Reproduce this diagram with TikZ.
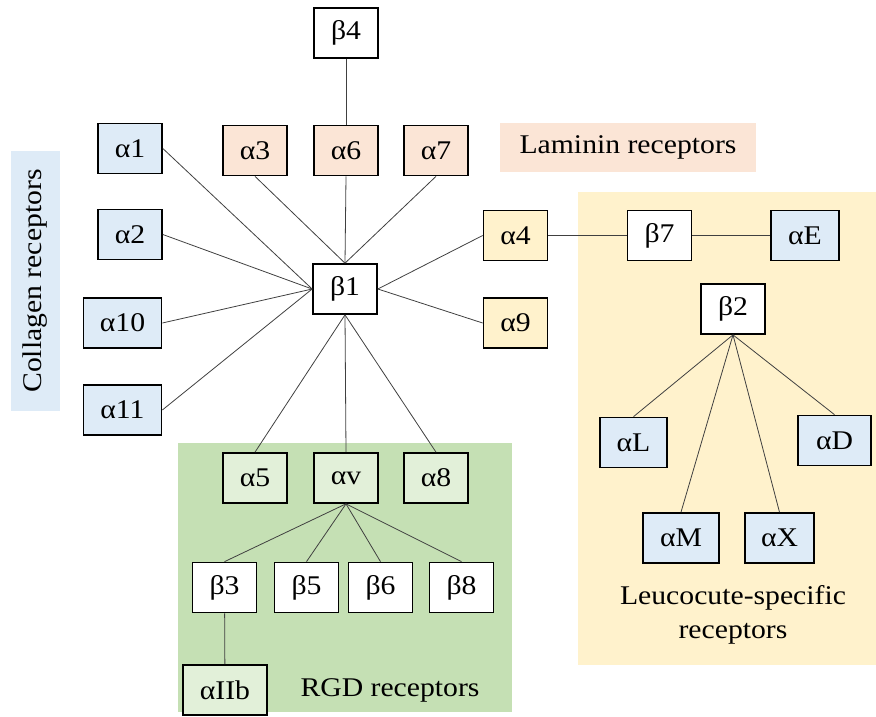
\documentclass[tikz,border=0pt]{standalone}
\usepackage{fontspec}
\setmainfont{Liberation Serif}[FakeStretch=1.1]
\definecolor{cblue}{HTML}{DEEBF7}
\definecolor{cpink}{HTML}{FBE5D6}
\definecolor{cyel}{HTML}{FFF2CC}
\definecolor{cgreen}{HTML}{C5E0B4}
\definecolor{cgbox}{HTML}{E2F0D9}
\definecolor{cline}{HTML}{404040}
\begin{document}
\begin{tikzpicture}[x=1pt,y=-1pt,
  box/.style={draw=black,line width=1.7pt,minimum width=64pt,minimum height=50pt,inner sep=2pt,font=\fontsize{27}{32}\selectfont},
  wbox/.style={box,fill=white},
  bbox/.style={box,fill=cblue},
  pbox/.style={box,fill=cpink},
  ybox/.style={box,fill=cyel},
  gbox/.style={box,fill=cgbox},
  conn/.style={draw=cline,line width=0.8pt},
  lbl/.style={font=\fontsize{27}{32}\selectfont,inner sep=0pt}]
\useasboundingbox (0,0) rectangle (876,716);
% group regions
\fill[cyel] (578,192) rectangle (876,665);
\fill[cgreen] (178,443) rectangle (512,712);
\node[lbl,fill=cpink,minimum width=256pt,minimum height=49pt] (lam) at (628,147.5) {Laminin receptors};
\node[lbl,fill=cblue,minimum width=260pt,minimum height=49pt,rotate=90] (col) at (35.5,281) {Collagen receptors};
\node[lbl] (rgd) at (390,690) {RGD receptors};
\node[lbl,align=center,font=\fontsize{27}{34}\selectfont] (leu) at (733,615) {Leucocute-specific\\receptors};
% nodes
\node[wbox] (b4) at (346,33) {β4};
\node[bbox] (a1) at (130,148.5) {α1};
\node[pbox] (a3) at (255,150.5) {α3};
\node[pbox] (a6) at (346,150.5) {α6};
\node[pbox] (a7) at (436,150.5) {α7};
\node[bbox] (a2) at (130,234.5) {α2};
\node[bbox,minimum width=78pt] (a10) at (122.5,323) {α10};
\node[bbox,minimum width=78pt] (a11) at (122.5,410) {α11};
\node[wbox] (b1) at (345,289) {β1};
\node[ybox] (a4) at (515.5,235.5) {α4};
\node[ybox] (a9) at (515.5,323) {α9};
\node[wbox] (b7) at (659.5,235.5) {β7};
\node[bbox,minimum width=68pt] (aE) at (805,235.5) {αE};
\node[wbox] (b2) at (733,309) {β2};
\node[bbox,minimum width=67pt] (aL) at (633.5,442.5) {αL};
\node[bbox,minimum width=73pt] (aD) at (834.5,440.5) {αD};
\node[bbox,minimum width=76pt] (aM) at (681,538) {αM};
\node[bbox,minimum width=69pt] (aX) at (779.5,538) {αX};
\node[gbox] (a5) at (255,478) {α5};
\node[gbox] (av) at (346,478) {αv};
\node[gbox] (a8) at (436,478) {α8};
\node[wbox] (b3) at (224.5,587.5) {β3};
\node[wbox] (b5) at (306.5,587.5) {β5};
\node[wbox] (b6) at (380.5,587.5) {β6};
\node[wbox] (b8) at (461.5,587.5) {β8};
\node[gbox,minimum width=84pt] (aIIb) at (225,690) {αIIb};
% connectors
\draw[conn] (b4) -- (a6);
\foreach \n in {a1,a2,a10,a11} \draw[conn] (\n.east) -- (b1.west);
\foreach \n in {a3,a6,a7} \draw[conn] (\n.south) -- (b1.north);
\foreach \n in {a4,a9} \draw[conn] (\n.west) -- (b1.east);
\foreach \n in {a5,av,a8} \draw[conn] (b1.south) -- (\n.north);
\foreach \n in {b3,b5,b6,b8} \draw[conn] (av.south) -- (\n.north);
\draw[conn] (b3) -- (aIIb);
\draw[conn] (a4) -- (b7);
\draw[conn] (b7) -- (aE);
\foreach \n in {aL,aM,aX,aD} \draw[conn] (b2.south) -- (\n.north);
\end{tikzpicture}
\end{document}
